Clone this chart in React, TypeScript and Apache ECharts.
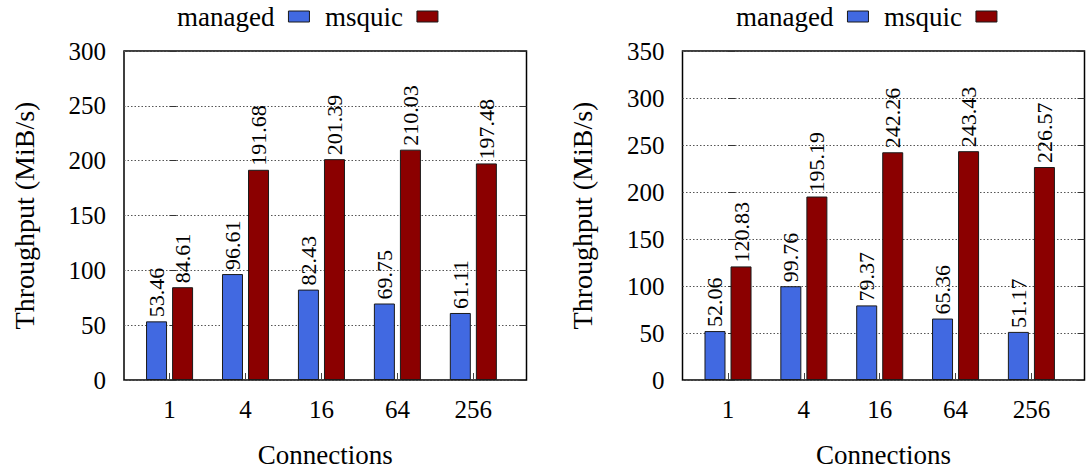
import React, { useEffect, useRef } from "react";
import * as echarts from "echarts";

const categories = ["1", "4", "16", "64", "256"];
const leftManaged = [53.46, 96.61, 82.43, 69.75, 61.11];
const leftMsquic = [84.61, 191.68, 201.39, 210.03, 197.48];
const rightManaged = [52.06, 99.76, 79.37, 65.36, 51.17];
const rightMsquic = [120.83, 195.19, 242.26, 243.43, 226.57];
const leftYMax = 300;
const rightYMax = 350;
const yStep = 50;
const seriesNames = ["managed", "msquic"];
const FONT = "Liberation Serif";
const BLUE = "#4169e1";
const RED = "#8b0000";

const toPairs = (arr: number[]) => arr.map((v, i) => [i, v]);
const catIdx = categories.map((_, i) => i);

function xAxisFor(gridIndex: number) {
  return {
    type: "value",
    gridIndex,
    min: -0.6,
    max: 4.7,
    name: "Connections",
    nameLocation: "middle",
    nameGap: 61,
    nameTextStyle: { fontFamily: FONT, fontSize: 27, color: "#000" },
    axisLine: { show: false },
    splitLine: { show: false },
    axisTick: {
      show: true,
      inside: true,
      length: 7,
      customValues: catIdx,
      lineStyle: { color: "#444", width: 1 },
    },
    axisLabel: {
      customValues: catIdx,
      margin: 17,
      fontFamily: FONT,
      fontSize: 25,
      color: "#000",
      formatter: (v: number) => categories[Math.round(v)] ?? "",
    },
  };
}

function yAxesFor(gridIndex: number, max: number) {
  return [
    {
      type: "value",
      gridIndex,
      min: 0,
      max,
      interval: yStep,
      position: "left",
      name: "Throughput (MiB/s)",
      nameLocation: "middle",
      nameRotate: 90,
      nameGap: 86,
      nameTextStyle: { fontFamily: FONT, fontSize: 28, color: "#000" },
      axisLine: { show: false },
      axisTick: { show: true, inside: true, length: 7, lineStyle: { color: "#333" } },
      axisLabel: { margin: 18, fontFamily: FONT, fontSize: 25, color: "#000" },
      splitLine: { show: true, lineStyle: { type: [1.5, 2], color: "#555", width: 1 } },
    },
    {
      type: "value",
      gridIndex,
      min: 0,
      max,
      interval: yStep,
      position: "right",
      axisLine: { show: false },
      axisTick: { show: true, inside: true, length: 7, lineStyle: { color: "#333" } },
      axisLabel: { show: false },
      splitLine: { show: false },
    },
  ];
}

function barSeries(name: string, data: number[], color: string, xAxisIndex: number, yAxisIndex: number) {
  return {
    type: "bar",
    name,
    xAxisIndex,
    yAxisIndex,
    data: toPairs(data),
    barWidth: 21,
    barGap: "24%",
    itemStyle: { color, borderColor: "#1a1a1a", borderWidth: 1 },
    label: {
      show: true,
      position: "top",
      distance: 4,
      rotate: 90,
      align: "left",
      verticalAlign: "middle",
      fontFamily: FONT,
      fontSize: 22,
      color: "#000",
      formatter: (p: any) => Number(p.value[1]).toFixed(2),
    },
  };
}

function legendAt(left: number) {
  return {
    left,
    top: 3,
    padding: 0,
    align: "right",
    icon: "rect",
    itemWidth: 21,
    itemHeight: 11,
    itemGap: 15,
    data: seriesNames,
    selectedMode: false,
    itemStyle: { borderColor: "#1a1a1a", borderWidth: 1 },
    textStyle: { fontFamily: FONT, fontSize: 27, color: "#000", padding: [0, 9, 0, 0] },
  };
}

export default function App() {
  const ref = useRef<HTMLDivElement>(null);
  useEffect(() => {
    if (!ref.current) return;
    const chart = echarts.init(ref.current, undefined, { renderer: "svg" });
    chart.setOption({
      animation: false,
      backgroundColor: "#fff",
      textStyle: { fontFamily: FONT },
      legend: [legendAt(177), legendAt(736)],
      grid: [
        { left: 124, top: 51, width: 402.5, height: 336, show: true, borderColor: "#000", borderWidth: 1.5, backgroundColor: "transparent" },
        { left: 682.5, top: 51, width: 402, height: 336, show: true, borderColor: "#000", borderWidth: 1.5, backgroundColor: "transparent" },
      ],
      xAxis: [xAxisFor(0), xAxisFor(1)],
      yAxis: [...yAxesFor(0, leftYMax), ...yAxesFor(1, rightYMax)],
      series: [
        barSeries(seriesNames[0], leftManaged, BLUE, 0, 0),
        barSeries(seriesNames[1], leftMsquic, RED, 0, 0),
        barSeries(seriesNames[0], rightManaged, BLUE, 1, 2),
        barSeries(seriesNames[1], rightMsquic, RED, 1, 2),
      ],
    });
    return () => chart.dispose();
  }, []);
  return (
    <div
      ref={ref}
      style={{ position: "fixed", left: 0, top: 0, width: 1086, height: 473, background: "#fff" }}
    />
  );
}
